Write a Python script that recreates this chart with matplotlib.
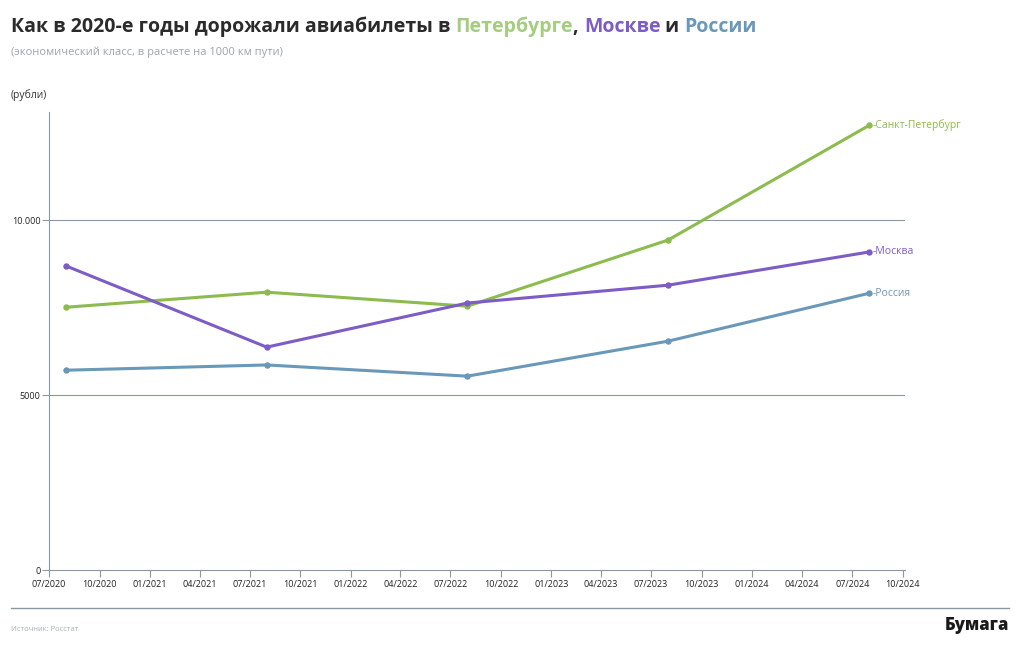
import matplotlib
matplotlib.use("Agg")
import matplotlib.pyplot as plt
import datetime as dt

dates = ["2020-08", "2021-08", "2022-08", "2023-08", "2024-08"]
spb = [7510, 7940, 7540, 9430, 12710]
msk = [8690, 6370, 7630, 8140, 9090]
rus = [5710, 5860, 5540, 6540, 7910]
series_names = ["Санкт-Петербург", "Москва", "Россия"]
tick_dates = ["2020-07", "2020-10", "2021-01", "2021-04", "2021-07", "2021-10",
              "2022-01", "2022-04", "2022-07", "2022-10", "2023-01", "2023-04",
              "2023-07", "2023-10", "2024-01", "2024-04", "2024-07", "2024-10"]
yticks = [0, 5000, 10000]
ytick_labels = ["0", "5000", "10.000"]

C_SPB = "#8cbb4e"
C_MSK = "#7e5cc6"
C_RUS = "#6a98b9"
C_SPB_T = "#a4cd80"
AX = "#8a98a3"

plt.rcParams['font.family'] = ['Open Sans', 'DejaVu Sans']

def d(s):
    y, m = s.split("-")
    return dt.datetime(int(y), int(m), 1)

x = [d(s) for s in dates]
fig = plt.figure(figsize=(10.2, 6.5), dpi=100)
ax = fig.add_axes([49/1020, 1-570/650, (905-49)/1020, (570-112)/650])

for vals, col, nm in zip([spb, msk, rus], [C_SPB, C_MSK, C_RUS], series_names):
    ax.plot(x, vals, color=col, lw=2.2, marker='o', ms=3.6, zorder=3)
    ax.annotate("-" + nm, (x[-1], vals[-1]), xytext=(2.5, 0), textcoords='offset points',
                color=col, fontsize=7.5, va='center', ha='left')

for yv in [5000, 10000]:
    ax.axhline(yv, color=AX, lw=0.8, zorder=1)

ax.set_ylim(0, 13090)
ax.set_xlim(d("2020-07"), d("2024-10") + dt.timedelta(days=4))
ax.set_yticks(yticks)
ax.set_yticklabels(ytick_labels)
tds = [d(s) for s in tick_dates]
ax.set_xticks(tds)
ax.set_xticklabels([t.strftime("%m/%Y") for t in tds])
for s in ['top', 'right']:
    ax.spines[s].set_visible(False)
for s in ['left', 'bottom']:
    ax.spines[s].set_color(AX)
    ax.spines[s].set_linewidth(0.8)
ax.tick_params(axis='both', colors=AX, labelcolor='#222222', labelsize=6.5, length=5, width=0.8)
ax.tick_params(axis='x', pad=2)
ax.tick_params(axis='y', pad=1)

# title pieces
fig.canvas.draw()
r = fig.canvas.get_renderer()
parts = [("Как в 2020-е годы дорожали авиабилеты в ", "#2b2b2b"), ("Петербурге", C_SPB_T),
         (", ", "#2b2b2b"), ("Москве", C_MSK), (" и ", "#2b2b2b"), ("России", C_RUS)]
xp = 11
for txt, col in parts:
    t = fig.text(xp/1020, 1-32/650, txt, color=col, fontsize=14, fontweight='bold', va='baseline', ha='left')
    bb = t.get_window_extent(r)
    xp += bb.width
fig.text(11/1020, 1-55/650, "(экономический класс, в расчете на 1000 км пути)", color="#9aa5ad", fontsize=8, va='baseline')
fig.text(11/1020, 1-98/650, "(рубли)", color="#333333", fontsize=7.5, va='baseline')

fig.add_artist(plt.Line2D([11/1020, 1009/1020], [1-608/650, 1-608/650], color=AX, lw=1))
fig.text(11/1020, 1-631/650, "Источник: Росстат", color="#a8b0b5", fontsize=5.5, va='baseline')
fig.text(1009/1020, 1-630/650, "Бумага", color="#1a1a1a", fontsize=12, fontweight='heavy', ha='right', va='baseline')

fig.savefig("out.png", dpi=100)
